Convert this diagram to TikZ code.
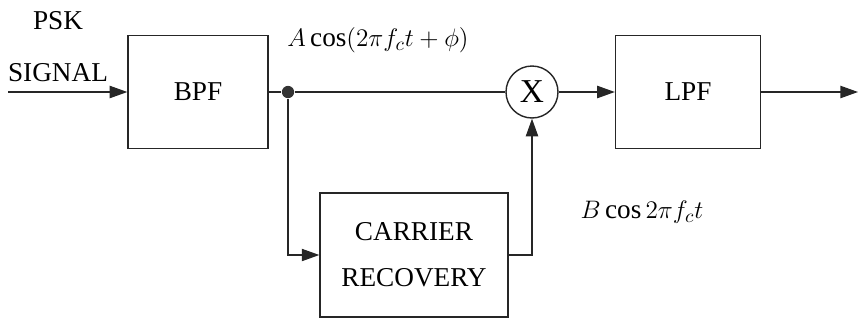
\documentclass[tikz,border=0pt]{standalone}
\usepackage{amsmath}
\usepackage{fontspec}
\setmainfont{Liberation Serif}
\usetikzlibrary{arrows.meta, positioning, calc}

\begin{document}
\begin{tikzpicture}[x=0.02cm, y=-0.02cm, >={Triangle[length=10pt,width=7pt]}, every node/.style={font=\fontsize{15.5}{18}\selectfont}, line width=0.7pt, draw=black!85]

\useasboundingbox (0,0) rectangle (862,322);

\tikzset{
  block/.style={draw, thick, minimum height=2.26cm, inner sep=0pt},
  mixer/.style={circle, draw, thick, minimum size=1.04cm, inner sep=0pt},
  junc/.style={circle, fill=black!80, minimum size=7pt, inner sep=0pt}
}

% Blocks
\node[block, minimum width=2.8cm] (bpf) at (198,92) {BPF};
\node[block, minimum width=2.9cm] (lpf) at (688,92) {LPF};
\node[block, minimum width=3.76cm, minimum height=2.48cm, align=center] (cr) at (414,255) {CARRIER\\[8pt]RECOVERY};
\node[mixer] (mix) at (532,92) {\fontsize{19}{19}\selectfont X};

% Branch point and free ends
\node[junc] (dot) at (288,92) {};
\coordinate (in) at (8,92);
\coordinate (out) at (858,92);

% Labels
\node (psk) at (58,21) {PSK};
\node (sig) at (58,73) {SIGNAL};
\node (sa) at (378,40) {$A\cos(2\pi f_c t+\phi)$};
\node (sb) at (642,212) {$B\cos 2\pi f_c t$};

% Connections
\draw[->] (in) -- (bpf.west);
\draw (bpf.east) -- (dot);
\draw (dot) -- (mix.west);
\draw[->] (dot) |- (cr.west);
\draw[->] (cr.east) -| (mix.south);
\draw[->] (mix.east) -- (lpf.west);
\draw[->] (lpf.east) -- (out);

\end{tikzpicture}
\end{document}
